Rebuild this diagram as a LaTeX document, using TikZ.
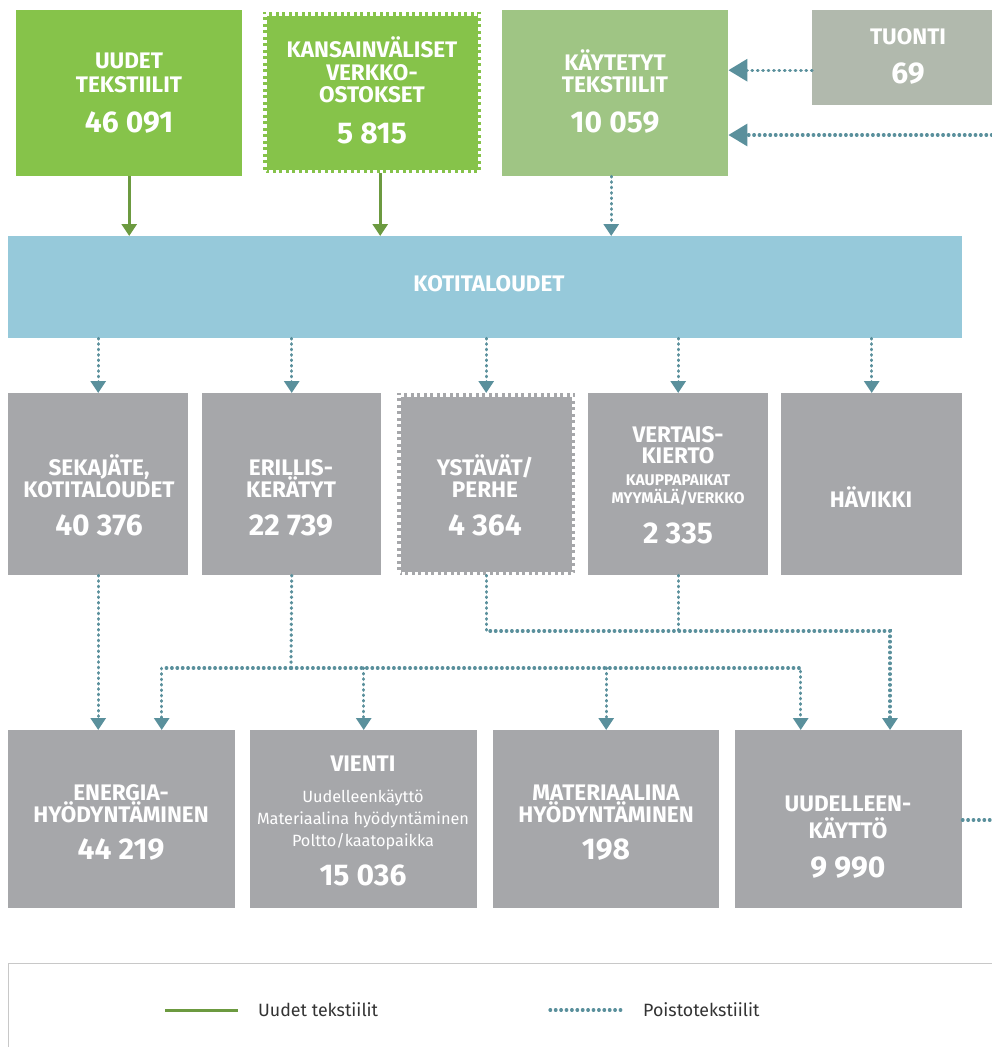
\documentclass[tikz,border=0pt]{standalone}
\usepackage{fontspec}
\setmainfont{Fira Sans}
\usetikzlibrary{arrows.meta}
\definecolor{gnew}{HTML}{86C34A}
\definecolor{gused}{HTML}{9FC584}
\definecolor{gimp}{HTML}{B1B9AD}
\definecolor{bhome}{HTML}{96C9DA}
\definecolor{gbox}{HTML}{A6A7AA}
\definecolor{teal}{HTML}{5A909C}
\definecolor{garr}{HTML}{6C9A40}
\definecolor{lborder}{HTML}{C8C8C8}
\definecolor{ltext}{HTML}{333333}
\tikzset{
  box/.style={rectangle, draw=none, inner sep=0pt, anchor=north west},
  hd/.style={text=white, inner sep=0pt, anchor=base, font=\fontsize{22.5}{24}\selectfont\bfseries},
  nm/.style={text=white, inner sep=0pt, anchor=base, font=\fontsize{30}{32}\selectfont\bfseries},
  smb/.style={text=white, inner sep=0pt, anchor=base, font=\fontsize{15.5}{18}\selectfont\bfseries},
  smr/.style={text=white, inner sep=0pt, anchor=base, font=\fontsize{16.3}{18}\selectfont},
  lg/.style={text=ltext, inner sep=0pt, anchor=west, font=\fontsize{17.8}{20}\selectfont},
  stamp/.style={draw=white, line width=3.5pt, dash pattern=on 3.5pt off 3pt},
  gline/.style={draw=garr, line width=3pt},
  garrow/.style={gline, -{Triangle[length=12pt,width=15pt]}},
  dline/.style={draw=teal, line width=3.2pt, line cap=round, dash pattern=on 0.6pt off 4.8pt},
  darrow/.style={dline, -{Triangle[length=12pt,width=15pt]}},
  bigarrow/.style={dline, -{Triangle[length=19pt,width=22pt]}},
}
\begin{document}
\begin{tikzpicture}[x=1pt,y=-1pt]
\clip (0,0) rectangle (992,1047);
\fill[white] (0,0) rectangle (992,1047);
% top row
\node[box, fill=gnew, minimum width=226pt, minimum height=166pt] (uudet) at (16,10) {};
\node[box, fill=gnew, minimum width=218pt, minimum height=161pt] (kans) at (263,12) {};
\draw[stamp] ([shift={(1.75pt,-1.75pt)}]kans.north west) rectangle ([shift={(-1.75pt,1.75pt)}]kans.south east);
\node[box, fill=gused, minimum width=226pt, minimum height=166pt] (kayt) at (502,10) {};
\node[box, fill=gimp, minimum width=200pt, minimum height=95pt] (tuonti) at (812,10) {};
\node[hd] (uudetA) at (129,68) {UUDET};
\node[hd] (uudetB) at (129,92) {TEKSTIILIT};
\node[nm] (uudetN) at (129,132) {46 091};
\node[hd] (kansA) at (372,57) {KANSAINVÄLISET};
\node[hd] (kansB) at (372,80) {VERKKO-};
\node[hd] (kansC) at (372,102) {OSTOKSET};
\node[nm] (kansN) at (372,143) {5 815};
\node[hd] (kaytA) at (615,70) {KÄYTETYT};
\node[hd] (kaytB) at (615,92) {TEKSTIILIT};
\node[nm] (kaytN) at (615,132) {10 059};
\node[hd] (tuontiA) at (908,44) {TUONTI};
\node[nm] (tuontiN) at (908,83) {69};
% households
\node[box, fill=bhome, minimum width=954pt, minimum height=102pt] (koti) at (8,236) {};
\node[hd] (kotiA) at (489,291) {KOTITALOUDET};
% row 2
\node[box, fill=gbox, minimum width=180pt, minimum height=182pt] (seka) at (8,393) {};
\node[box, fill=gbox, minimum width=179pt, minimum height=182pt] (eril) at (202,393) {};
\node[box, fill=gbox, minimum width=178pt, minimum height=182pt] (ysta) at (397,393) {};
\draw[stamp] ([shift={(1.75pt,-1.75pt)}]ysta.north west) rectangle ([shift={(-1.75pt,1.75pt)}]ysta.south east);
\node[box, fill=gbox, minimum width=180pt, minimum height=182pt] (vert) at (588,393) {};
\node[box, fill=gbox, minimum width=181pt, minimum height=182pt] (havi) at (781,393) {};
\node[hd] (sekaA) at (99,475) {SEKAJÄTE,};
\node[hd] (sekaB) at (99,497) {KOTITALOUDET};
\node[nm] (sekaN) at (99,535) {40 376};
\node[hd] (erilA) at (291,475) {ERILLIS-};
\node[hd] (erilB) at (291,497) {KERÄTYT};
\node[nm] (erilN) at (291,535) {22 739};
\node[hd] (ystaA) at (485,475) {YSTÄVÄT/};
\node[hd] (ystaB) at (485,497) {PERHE};
\node[nm] (ystaN) at (485,535) {4 364};
\node[hd] (vertA) at (678,442) {VERTAIS-};
\node[hd] (vertB) at (678,463) {KIERTO};
\node[smb] (vertC) at (678,485) {KAUPPAPAIKAT};
\node[smb] (vertD) at (678,503) {MYYMÄLÄ/VERKKO};
\node[nm] (vertN) at (678,543) {2 335};
\node[hd] (haviA) at (871,507) {HÄVIKKI};
% row 3
\node[box, fill=gbox, minimum width=227pt, minimum height=178pt] (ener) at (8,730) {};
\node[box, fill=gbox, minimum width=227pt, minimum height=178pt] (vien) at (250,730) {};
\node[box, fill=gbox, minimum width=226pt, minimum height=178pt] (mate) at (493,730) {};
\node[box, fill=gbox, minimum width=227pt, minimum height=178pt] (uude) at (735,730) {};
\node[hd] (enerA) at (121,800) {ENERGIA-};
\node[hd] (enerB) at (121,822) {HYÖDYNTÄMINEN};
\node[nm] (enerN) at (121,859) {44 219};
\node[hd] (vienA) at (363,771) {VIENTI};
\node[smr] (vienB) at (363,802) {Uudelleenkäyttö};
\node[smr] (vienC) at (363,824) {Materiaalina hyödyntäminen};
\node[smr] (vienD) at (363,846) {Poltto/kaatopaikka};
\node[nm] (vienN) at (363,885) {15 036};
\node[hd] (mateA) at (606,800) {MATERIAALINA};
\node[hd] (mateB) at (606,822) {HYÖDYNTÄMINEN};
\node[nm] (mateN) at (606,859) {198};
\node[hd] (uudeA) at (848,811) {UUDELLEEN-};
\node[hd] (uudeB) at (848,838) {KÄYTTÖ};
\node[nm] (uudeN) at (848,877) {9 990};
% connectors top
\draw[garrow] (uudet.south) -- (uudet.south |- koti.north);
\draw[garrow] ([xshift=8pt]kans.south) -- ([xshift=8pt]kans.south |- koti.north);
\draw[darrow] ([xshift=-4pt]kayt.south) -- ([xshift=-4pt]kayt.south |- koti.north);
\draw[bigarrow] ([yshift=-12.5pt]tuonti.west) -- ([yshift=-12.5pt]tuonti.west -| kayt.east);
\coordinate (loopin) at (992,135);
\draw[bigarrow] (loopin) -- (loopin -| kayt.east);
% households to row 2
\foreach \b in {seka,eril,ysta,vert,havi}
  \draw[darrow] (koti.south -| \b.north) -- (\b.north);
% row 2 to row 3
\draw[darrow] (seka.south) -- (seka.south |- ener.north);
\coordinate (jE) at (291,668);
\draw[dline] (eril.south) -- (jE);
\draw[darrow] (jE) -| ([xshift=40pt]ener.north);
\draw[darrow] (jE) -| ([xshift=-48pt]uude.north);
\draw[darrow] (vien.north |- jE) -- (vien.north);
\draw[darrow] (mate.north |- jE) -- (mate.north);
\coordinate (jY) at (890,631);
\draw[darrow] (ysta.south) |- (jY) -- (jY |- uude.north);
\draw[dline] (vert.south) -- (vert.south |- jY);
\coordinate (loopout) at (992,820);
\draw[dline] (uude.east |- loopout) -- (loopout);
% legend
\node[box, draw=lborder, line width=1pt, minimum width=1000pt, minimum height=120pt] (legend) at (8,963) {};
\coordinate (lgA) at (165,1010);
\coordinate (lgB) at (238,1010);
\draw[gline] (lgA) -- (lgB);
\node[lg] (lgAT) at (258,1010) {Uudet tekstiilit};
\coordinate (lgC) at (550,1010);
\coordinate (lgD) at (622,1010);
\draw[dline] (lgC) -- (lgD);
\node[lg] (lgBT) at (643,1010) {Poistotekstiilit};
\end{tikzpicture}
\end{document}
